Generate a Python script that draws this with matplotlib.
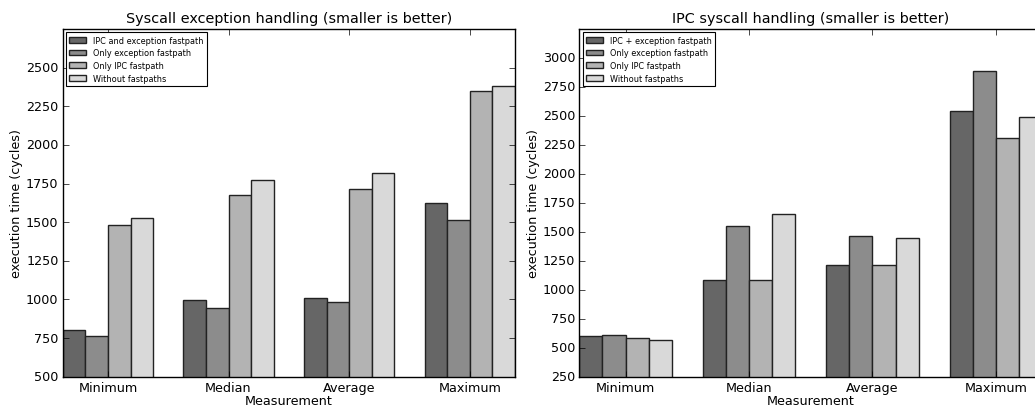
import matplotlib
matplotlib.use('Agg')
import matplotlib.pyplot as plt
import numpy as np

plt.style.use('classic')

measurements = ['Minimum', 'Median', 'Average', 'Maximum']

# syscall exception handling (cycles)
exc_labels = ['IPC and exception fastpath', 'Only exception fastpath',
              'Only IPC fastpath', 'Without fastpaths']
exc_both = [804, 998, 1011, 1624]
exc_only_exc = [765, 947, 981, 1514]
exc_only_ipc = [1481, 1676, 1716, 2347]
exc_none = [1527, 1776, 1816, 2380]

# IPC syscall handling (cycles)
ipc_labels = ['IPC + exception fastpath', 'Only exception fastpath',
              'Only IPC fastpath', 'Without fastpaths']
ipc_both = [603, 1087, 1218, 2545]
ipc_only_exc = [612, 1548, 1462, 2885]
ipc_only_ipc = [587, 1088, 1210, 2312]
ipc_none = [563, 1652, 1446, 2493]

colors = ['#666666', '#8c8c8c', '#b3b3b3', '#d9d9d9']
width = 0.1875

fig = plt.figure(figsize=(10.35, 4.1), dpi=100, facecolor='white')
ax1 = fig.add_axes([0.0606, 0.0788, 0.437, 0.848])
ax2 = fig.add_axes([0.5597, 0.0788, 0.4473, 0.848])


def draw(ax, series, labels, title, ylim):
    x = np.arange(len(measurements))
    for j, (vals, lab) in enumerate(zip(series, labels)):
        ax.bar(x + (j - 1.5) * width, vals, width, color=colors[j],
               edgecolor='#222222', linewidth=1, label=lab, align='center')
    ax.set_xlim(-0.375, 3.375)
    ax.set_ylim(*ylim)
    ax.set_xticks(x)
    ax.set_xticklabels(measurements, fontsize=9.2)
    ax.tick_params(axis='y', labelsize=9.2, pad=3)
    ax.tick_params(axis='x', pad=3)
    ax.set_xlabel('Measurement', fontsize=9.2, labelpad=0)
    ax.set_ylabel('execution time (cycles)', fontsize=9.2, labelpad=2)
    ax.set_title(title, fontsize=10.4, y=1.0)
    leg = ax.legend(loc='upper left', fontsize=5.9, fancybox=False,
                    borderaxespad=0.4, labelspacing=0.45, handlelength=2.1)
    leg.get_frame().set_linewidth(0.8)


draw(ax1, [exc_both, exc_only_exc, exc_only_ipc, exc_none], exc_labels,
     'Syscall exception handling (smaller is better)', (500, 2750))
ax1.set_yticks(np.arange(500, 2501, 250))
draw(ax2, [ipc_both, ipc_only_exc, ipc_only_ipc, ipc_none], ipc_labels,
     'IPC syscall handling (smaller is better)', (250, 3250))
ax2.set_yticks(np.arange(250, 3001, 250))

fig.savefig('out.png', dpi=100, facecolor='white')
